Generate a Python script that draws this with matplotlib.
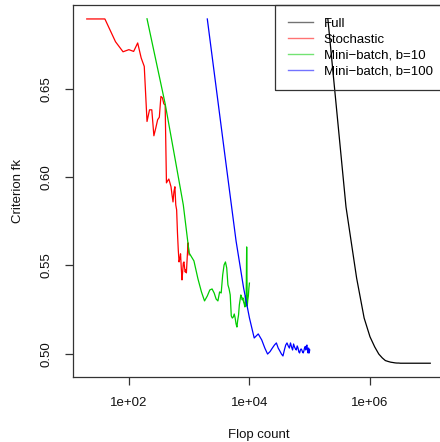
import matplotlib
matplotlib.use("Agg")
import matplotlib.pyplot as plt
import numpy as np

plt.rcParams['font.family'] = ['Liberation Sans', 'DejaVu Sans']

# Flop counts per series (iteration k times cost per iteration)
stoch_x = [20 * k for k in range(1, 51)]
mb10_x = [200 * k for k in range(1, 51)]
mb100_x = [2000 * k for k in range(1, 51)]
full_x = [200000 * k for k in range(1, 51)]

stoch_y = [0.6897, 0.6897, 0.6768, 0.6711, 0.6723, 0.6713, 0.6761, 0.6676, 0.6628, 0.6316,
           0.6382, 0.6382, 0.6235, 0.6280, 0.6326, 0.6340, 0.6458, 0.6450, 0.6416, 0.6410,
           0.5968, 0.5980, 0.5990, 0.5968, 0.5946, 0.5900, 0.5860, 0.5920, 0.5946, 0.5843,
           0.5815, 0.5685, 0.5588, 0.5520, 0.5540, 0.5566, 0.5486, 0.5418, 0.5463, 0.5514,
           0.5520, 0.5486, 0.5463, 0.5475, 0.5458, 0.5520, 0.5577, 0.5628, 0.5588, 0.5560]

mb10_y = [0.6898, 0.6416, 0.6082, 0.5843, 0.5571, 0.5526, 0.5424, 0.5350, 0.5299, 0.5327,
          0.5361, 0.5367, 0.5344, 0.5310, 0.5299, 0.5350, 0.5344, 0.5446, 0.5503, 0.5520,
          0.5486, 0.5390, 0.5367, 0.5333, 0.5214, 0.5202, 0.5208, 0.5225, 0.5202, 0.5169,
          0.5151, 0.5191, 0.5220, 0.5276, 0.5305, 0.5333, 0.5322, 0.5305, 0.5316, 0.5293,
          0.5282, 0.5265, 0.5327, 0.5270, 0.5605, 0.5270, 0.5305, 0.5327, 0.5372, 0.5400]

mb100_y = [0.6897, 0.6101, 0.5639, 0.5373, 0.5203, 0.5089, 0.5112, 0.5078, 0.5032, 0.4998,
           0.5012, 0.5032, 0.5049, 0.5061, 0.5032, 0.5015, 0.4998, 0.4987, 0.5021, 0.5049,
           0.5061, 0.5044, 0.5032, 0.5061, 0.5038, 0.5021, 0.5055, 0.5038, 0.5027, 0.5021,
           0.5044, 0.5032, 0.5010, 0.5004, 0.5021, 0.5027, 0.5021, 0.5010, 0.5004, 0.5015,
           0.5032, 0.5040, 0.5021, 0.5044, 0.5049, 0.5021, 0.5004, 0.5032, 0.5004, 0.5021]

full_y = [0.6898, 0.5832, 0.5429, 0.5202, 0.5096, 0.5038, 0.4998, 0.4976, 0.4961, 0.4956,
          0.4952, 0.4950, 0.4948, 0.4947, 0.4947, 0.4946, 0.4946, 0.4946, 0.4946, 0.4946,
          0.4946, 0.4946, 0.4946, 0.4946, 0.4946, 0.4946, 0.4946, 0.4946, 0.4946, 0.4946,
          0.4946, 0.4946, 0.4946, 0.4946, 0.4946, 0.4946, 0.4946, 0.4946, 0.4946, 0.4946,
          0.4946, 0.4946, 0.4946, 0.4946, 0.4946, 0.4946, 0.4946, 0.4946, 0.4946, 0.4946]

labels = ["Full", "Stochastic", "Mini\u2212batch, b=10", "Mini\u2212batch, b=100"]
colors = ["#000000", "#FF0000", "#00CC00", "#0000FF"]

xticks = [1e2, 1e4, 1e6]
xticklabels = ["1e+02", "1e+04", "1e+06"]
yticks = [0.50, 0.55, 0.60, 0.65]
yticklabels = ["0.50", "0.55", "0.60", "0.65"]

W, H = 440, 442
fig = plt.figure(figsize=(W / 100, H / 100), dpi=100)
ax = fig.add_axes([73 / W, 65 / H, 371 / W, 372 / H])

series = [(full_x, full_y), (stoch_x, stoch_y), (mb10_x, mb10_y), (mb100_x, mb100_y)]
handles = []
for (xs, ys), c, lab in zip(series, colors, labels):
    h, = ax.plot(xs, ys, color=c, lw=0.9, label=lab, zorder=3)
    handles.append(h)

ax.set_xscale('log')
allx = np.log10(np.concatenate([stoch_x, full_x]))
lo, hi = allx.min(), allx.max()
pad = 0.04 * (hi - lo)
ax.set_xlim(10 ** (lo - pad), 10 ** (hi + pad))
ally = np.concatenate([stoch_y, mb10_y, mb100_y, full_y])
ylo, yhi = ally.min(), ally.max()
ypad = 0.04 * (yhi - ylo)
ax.set_ylim(ylo - ypad, yhi + ypad)

ax.set_xticks(xticks)
ax.set_xticklabels(xticklabels)
ax.xaxis.set_minor_locator(matplotlib.ticker.NullLocator())
ax.set_yticks(yticks)
ax.set_yticklabels(yticklabels, rotation=90, va='center')

for s in ax.spines.values():
    s.set_color('#333333')
    s.set_linewidth(0.9)
ax.tick_params(axis='both', length=6, width=0.9, color='#333333', labelsize=9.5, pad=8.5,
               labelcolor='#111111')

ax.set_xlabel("Flop count", fontsize=9.5, color='#111111', va='center')
ax.set_ylabel("Criterion fk", fontsize=9.5, color='#111111', va='center')
ax.xaxis.set_label_coords(0.5, (H - 435 - 65) / 372)
ax.yaxis.set_label_coords((18 - 73) / 371, 0.5)

leg = fig.legend(handles=handles, labels=labels, loc='upper left',
                 bbox_to_anchor=(275 / W, (H - 5) / H), fontsize=9.5,
                 frameon=True, fancybox=False, framealpha=1, edgecolor='#333333',
                 borderpad=0.95, handlelength=1.95, handletextpad=0.8,
                 labelspacing=0.27, borderaxespad=0)
leg.get_frame().set_linewidth(0.9)
leg.get_frame().set_facecolor('none')
for line in leg.get_lines():
    line.set_alpha(0.55)
    line.set_linewidth(1.0)
leg.set_zorder(1)

fig.savefig("out.png", dpi=100)
